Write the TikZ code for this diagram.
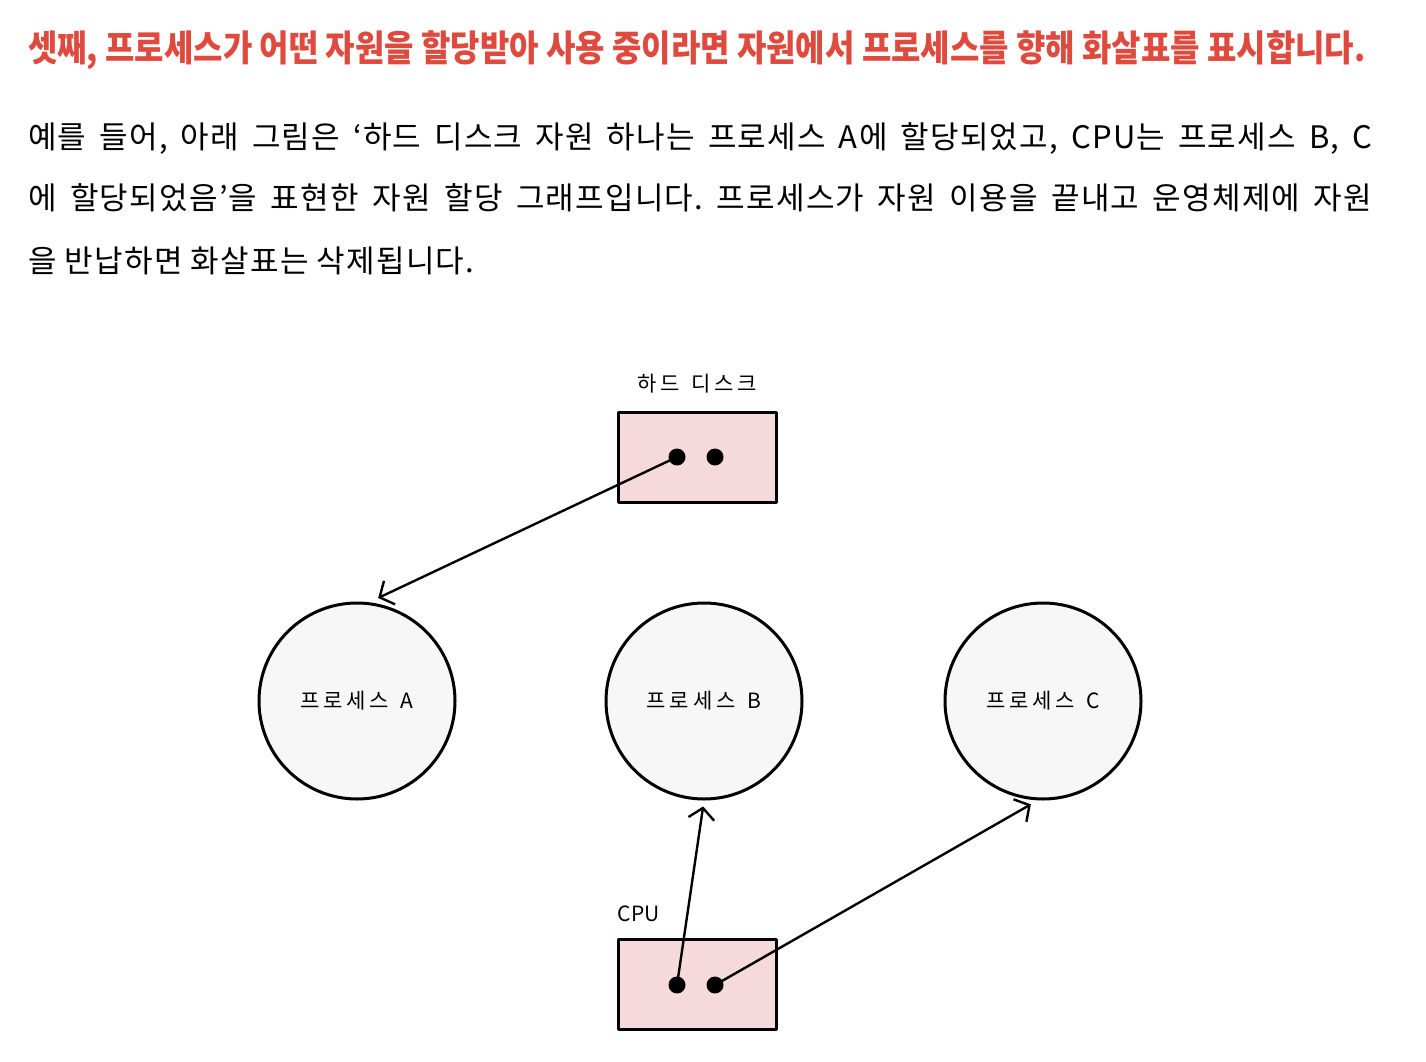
\documentclass[tikz,border=0pt]{standalone}
\usepackage{fontspec}
\usepackage{xcolor}
\usetikzlibrary{arrows.meta,positioning}

\newfontfamily\krfont{Noto Sans CJK KR}
\newfontfamily\bodyfont[LetterSpace=4]{Noto Sans CJK KR}
\newfontfamily\handfont[LetterSpace=18,WordSpace=1.4]{Noto Sans CJK KR}
\newfontfamily\headfont[FakeStretch=0.88]{Noto Sans CJK KR}

\definecolor{headred}{HTML}{DF4A3E}
\definecolor{diskpink}{HTML}{F6DADB}
\definecolor{procgray}{HTML}{F7F7F7}

\frenchspacing

\begin{document}
\begin{tikzpicture}[
			x=1pt,
			y=-1pt,
			>={Straight Barb[length=11pt,width=26pt]},
			line cap=round,
			line join=round,
			resbox/.style={draw,line width=3pt,fill=diskpink,
				minimum width=158pt,minimum height=90pt,inner sep=0pt},
			instdot/.style={circle,fill=black,minimum size=17pt,inner sep=0pt},
			proc/.style={circle,draw,line width=3pt,fill=procgray,
				minimum size=196pt,inner sep=0pt,
				font=\handfont\fontsize{21}{26}\selectfont},
			tag/.style={inner sep=0pt,font=\handfont\fontsize{21}{26}\selectfont},
			body/.style={anchor=base west,inner sep=0pt,
				font=\bodyfont\fontsize{31}{36}\selectfont},
			alloc/.style={->,line width=2.4pt,shorten >=8pt}
			]
			
			% 배경
			\fill[white] (0,0) rectangle (1426,1062);
			\useasboundingbox (0,0) rectangle (1426,1062);
			
			% 제목
			\node[anchor=base west,inner sep=0pt,text=headred,
				font=\headfont\bfseries\fontsize{36.3}{42}\selectfont] (head) at (28,62)
				{셋째, 프로세스가 어떤 자원을 할당받아 사용 중이라면 자원에서 프로세스를 향해 화살표를 표시합니다.};
			
			% 본문
			\node[body] (line1) at (28,149) {\makebox[1344pt][s]{예를 들어, 아래 그림은 ‘하드 디스크 자원 하나는 프로세스 A에 할당되었고, CPU는 프로세스 B, C}};
			\node[body] (line2) at (28,209) {\makebox[1344pt][s]{에 할당되었음’을 표현한 자원 할당 그래프입니다. 프로세스가 자원 이용을 끝내고 운영체제에 자원}};
			\node[body] (line3) at (28,272) {을 반납하면 화살표는 삭제됩니다.};
			
			% 자원
			\node[resbox] (hd) at (697,457) {};
			\node[tag,above=17pt of hd] (hdlabel) {하드 디스크};
			\node[instdot] (hd1) at (677,457) {};
			\node[instdot] (hd2) at (715,457) {};
			
			\node[resbox] (cpu) at (697,984.5) {};
			\node[inner sep=0pt,font=\krfont\fontsize{21}{26}\selectfont,
				above right=16pt and 1pt of cpu.north west] (cpulabel) {CPU};
			\node[instdot] (cpu1) at (677,985) {};
			\node[instdot] (cpu2) at (715,985) {};
			
			% 프로세스
			\node[proc] (procA) at (357,701) {프로세스 A};
			\node[proc] (procB) at (704,701) {프로세스 B};
			\node[proc] (procC) at (1043,701) {프로세스 C};
			
			% 할당 화살표
			\draw[alloc,shorten >=10pt] (hd1.center) -- (procA.83);
			\draw[alloc,shorten >=6pt] (cpu1.center) -- (procB.270);
			\draw[alloc] (cpu2.center) -- (procC.267);
			
		\end{tikzpicture}
\end{document}
